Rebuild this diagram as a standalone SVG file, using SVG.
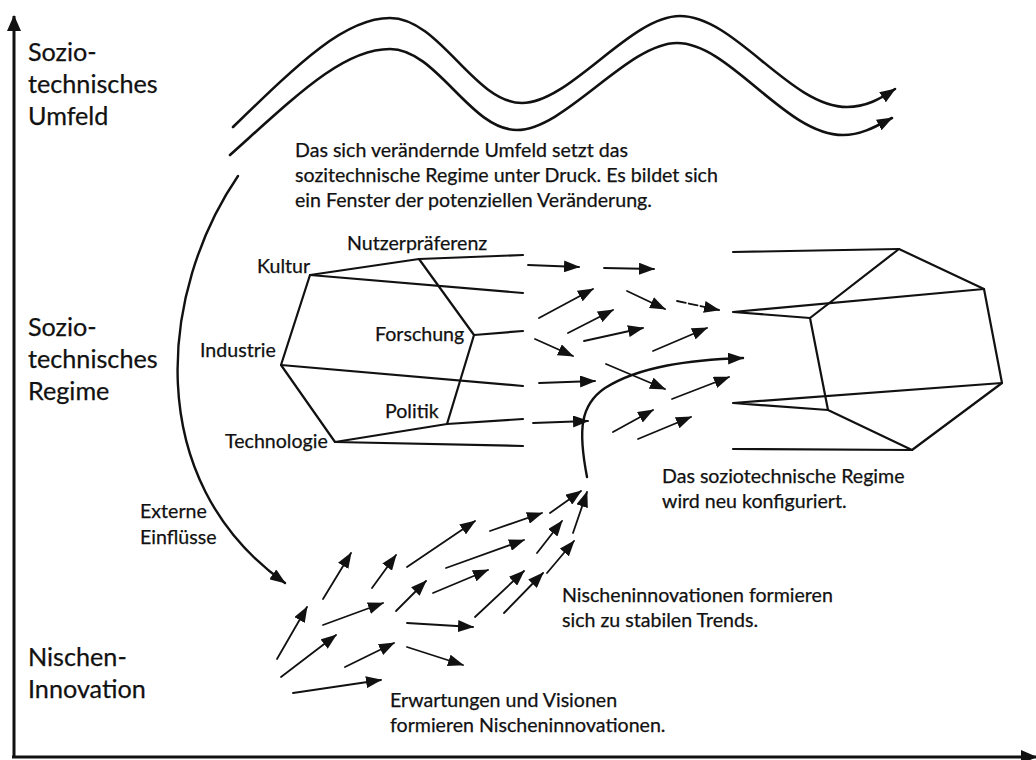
<svg xmlns="http://www.w3.org/2000/svg" width="1036" height="760" viewBox="0 0 1036 760">
  <style>
    text { font-family: Lato, "Liberation Sans", sans-serif; fill: #111; stroke: #111; stroke-width: 0.25; }
    .lvl { font-size: 25.2px; }
    .lbl { font-size: 19.6px; }
    .edge { fill: none; stroke: #111; stroke-width: 2.2; stroke-linejoin: round; stroke-linecap: round; }
    .axis { fill: none; stroke: #111; stroke-width: 3; }
    .wave { fill: none; stroke: #111; stroke-width: 2.6; stroke-linecap: round; }
    .flow { fill: none; stroke: #111; stroke-width: 1.8; stroke-linecap: round; marker-end: url(#head); }
    .big { fill: none; stroke: #111; stroke-width: 2.4; stroke-linecap: round; marker-end: url(#head); }
  </style>
  <defs>
    <marker id="head" viewBox="0 0 16 12" refX="15" refY="6" markerWidth="16" markerHeight="12" markerUnits="userSpaceOnUse" orient="auto">
      <path d="M0,0 L16,6 L0,12 z" fill="#111"/>
    </marker>
    <marker id="axhead" viewBox="0 0 16 14" refX="15" refY="7" markerWidth="16" markerHeight="14" markerUnits="userSpaceOnUse" orient="auto">
      <path d="M0,0 L16,7 L0,14 z" fill="#111"/>
    </marker>
  </defs>

  <rect width="1036" height="760" fill="#fff"/>

  <!-- axes -->
  <g id="axes">
    <path class="axis" d="M14,758 L14,16" marker-end="url(#axhead)"/>
    <path class="axis" d="M12,757 L1036,757" marker-end="url(#axhead)"/>
  </g>

  <!-- level labels on the vertical axis -->
  <g id="level-landscape">
    <text class="lvl" x="28" y="61">Sozio-</text>
    <text class="lvl" x="28" y="93">technisches</text>
    <text class="lvl" x="28" y="125">Umfeld</text>
  </g>
  <g id="level-regime">
    <text class="lvl" x="28" y="336">Sozio-</text>
    <text class="lvl" x="28" y="368">technisches</text>
    <text class="lvl" x="28" y="400">Regime</text>
  </g>
  <g id="level-niche">
    <text class="lvl" x="28" y="666">Nischen-</text>
    <text class="lvl" x="28" y="698">Innovation</text>
  </g>

  <!-- regime before the change -->
  <g id="regime-old">
    <path class="edge" d="M310,275 L419,259 L474,335 L447,424 L335,442 L281,365 Z"/>
    <path class="edge" d="M419,259 L523,255 M310,275 L523,293 M474,335 L523,331 M281,365 L523,386 M447,424 L523,419 M335,442 L523,446"/>
    <text class="lbl" x="257" y="273">Kultur</text>
    <text class="lbl" x="347" y="250">Nutzerpräferenz</text>
    <text class="lbl" x="375" y="341">Forschung</text>
    <text class="lbl" x="200" y="357">Industrie</text>
    <text class="lbl" x="385" y="418">Politik</text>
    <text class="lbl" x="225" y="448">Technologie</text>
  </g>

  <!-- regime after the change -->
  <g id="regime-new">
    <path class="edge" d="M899,249 L984,289 L1002,383 L912,450 L828,410 L810,318 Z"/>
    <path class="edge" d="M733,252 L899,249 M733,312 L810,318 M733,312 L984,289 M733,403 L828,410 M733,403 L1002,383 M733,449 L912,450"/>
  </g>

  <!-- explanatory texts -->
  <g id="note-landscape">
    <text class="lbl" x="295" y="157">Das sich verändernde Umfeld setzt das</text>
    <text class="lbl" x="295" y="182">sozitechnische Regime unter Druck. Es bildet sich</text>
    <text class="lbl" x="295" y="207">ein Fenster der potenziellen Veränderung.</text>
  </g>
  <g id="note-regime">
    <text class="lbl" x="662" y="483">Das soziotechnische Regime</text>
    <text class="lbl" x="662" y="508">wird neu konfiguriert.</text>
  </g>
  <g id="note-trends">
    <text class="lbl" x="562" y="602">Nischeninnovationen formieren</text>
    <text class="lbl" x="562" y="627">sich zu stabilen Trends.</text>
  </g>
  <g id="note-visions">
    <text class="lbl" x="390" y="707">Erwartungen und Visionen</text>
    <text class="lbl" x="390" y="732">formieren Nischeninnovationen.</text>
  </g>
  <g id="note-external">
    <text class="lbl" x="140" y="518">Externe</text>
    <text class="lbl" x="140" y="544">Einflüsse</text>
  </g>

  <!-- connectors -->
  <g id="connectors">
    <!-- landscape waves -->
    <path class="wave" marker-end="url(#head)" d="M233,127 C300,62 345,18 390,18 C440,18 474,103 522,103 C570,103 630,16 680,16 C735,16 790,107 847,107 C866,107 880,99 895,89"/>
    <path class="wave" marker-end="url(#head)" d="M230,155 C297,95 343,49 390,49 C437,49 470,130 517,130 C565,130 628,43 677,43 C730,43 785,135 843,135 C861,135 875,127 892,118"/>
    <!-- external influences -->
    <path class="big" d="M238,176 C160,290 140,480 285,583"/>
    <!-- niche momentum breaking into the regime -->
    <path class="big" d="M587,477 C578,430 580,405 605,388 C640,366 690,360 743,358"/>

    <!-- arrows inside the regime -->
    <path class="flow" d="M528,265 L579,267"/>
    <path class="flow" d="M604,268 L654,269"/>
    <path class="flow" d="M539,318 L593,289"/>
    <path class="flow" d="M627,291 L665,309"/>
    <path class="flow" stroke-dasharray="9 3" d="M677,301 L719,310"/>
    <path class="flow" d="M568,333 L613,310"/>
    <path class="flow" d="M584,341 L643,328"/>
    <path class="flow" d="M535,339 L573,356"/>
    <path class="flow" d="M653,351 L707,328"/>
    <path class="flow" d="M606,364 L665,389"/>
    <path class="flow" d="M539,383 L595,381"/>
    <path class="flow" d="M672,399 L729,377"/>
    <path class="flow" d="M533,423 L588,421"/>
    <path class="flow" d="M613,432 L653,410"/>
    <path class="flow" d="M638,439 L691,417"/>

    <!-- niche arrows -->
    <path class="flow" d="M277,659 L307,607"/>
    <path class="flow" d="M281,677 L336,635"/>
    <path class="flow" d="M293,693 L381,680"/>
    <path class="flow" d="M323,599 L351,553"/>
    <path class="flow" d="M323,625 L383,603"/>
    <path class="flow" d="M345,667 L394,643"/>
    <path class="flow" d="M372,588 L396,555"/>
    <path class="flow" d="M396,611 L426,581"/>
    <path class="flow" d="M407,623 L473,627"/>
    <path class="flow" d="M407,647 L463,665"/>
    <path class="flow" d="M407,567 L475,521"/>
    <path class="flow" d="M433,593 L488,570"/>
    <path class="flow" d="M446,568 L524,540"/>
    <path class="flow" d="M490,531 L542,513"/>
    <path class="flow" d="M475,617 L524,571"/>
    <path class="flow" d="M504,613 L543,573"/>
    <path class="flow" d="M537,553 L562,521"/>
    <path class="flow" d="M547,573 L574,541"/>
    <path class="flow" d="M550,513 L581,491"/>
    <path class="flow" d="M573,533 L587,492"/>
  </g>
</svg>
